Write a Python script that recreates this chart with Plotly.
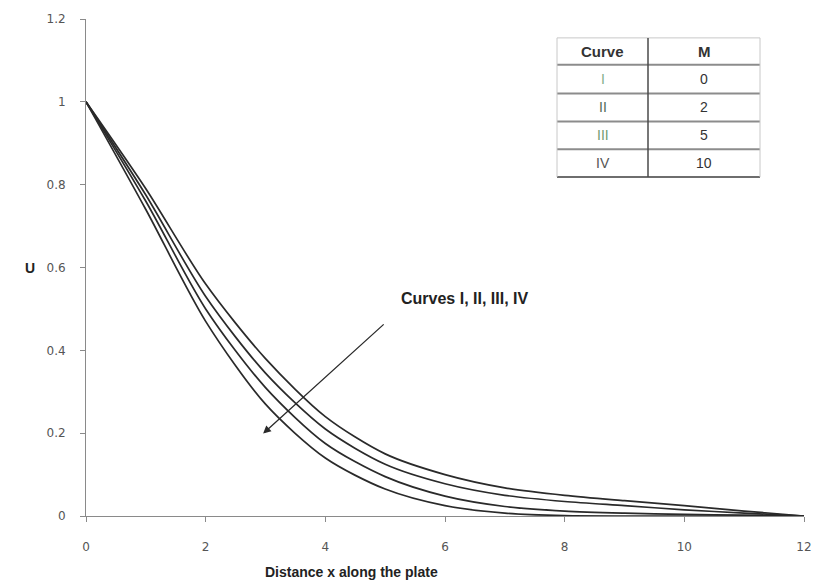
import plotly.graph_objects as go

# Velocity profiles U along the plate for different magnetic parameters M
x_vals = [0, 1, 2, 3, 4, 5, 6, 7, 8, 9, 10, 11, 12]
u_curve_iv = [1.0, 0.74, 0.47, 0.27, 0.14, 0.065, 0.025, 0.007, 0.001, 0.0, 0.0, 0.0, 0.0]
u_curve_iii = [1.0, 0.76, 0.50, 0.31, 0.175, 0.095, 0.048, 0.023, 0.012, 0.007, 0.004, 0.002, 0.0]
u_curve_ii = [1.0, 0.775, 0.53, 0.345, 0.21, 0.125, 0.078, 0.05, 0.035, 0.025, 0.015, 0.007, 0.0]
u_curve_i = [1.0, 0.79, 0.56, 0.38, 0.24, 0.15, 0.10, 0.068, 0.05, 0.037, 0.025, 0.012, 0.0]

curve_names = ["I", "II", "III", "IV"]
m_values = ["0", "2", "5", "10"]
name_colors = ["#7fae8a", "#4f6b58", "#6f9c72", "#555555"]

x_ticks = [0, 2, 4, 6, 8, 10, 12]
y_ticks = [0, 0.2, 0.4, 0.6, 0.8, 1, 1.2]

W, H = 826, 586
ML, MR, MT, MB = 86, 22, 16, 70

fig = go.Figure()
for name, ys in zip(curve_names, [u_curve_i, u_curve_ii, u_curve_iii, u_curve_iv]):
    fig.add_trace(go.Scatter(
        x=x_vals, y=ys, mode="lines", name=name,
        line=dict(color="#2a2a2a", width=1.7, shape="spline", smoothing=0.8),
        showlegend=False,
    ))

tick_font = dict(family="DejaVu Sans, Verdana, sans-serif", size=12, color="#555555")
label_font = dict(family="Liberation Sans, Arial, sans-serif", size=14, color="#222222")

fig.update_xaxes(
    range=[0, 12], tickvals=x_ticks, ticktext=[str(v) for v in x_ticks],
    showgrid=False, zeroline=False, showline=True, linecolor="#8a8a8a", linewidth=1,
    ticks="outside", ticklen=5, tickcolor="#8a8a8a", ticklabelstandoff=15,
    tickfont=tick_font,
)
fig.update_yaxes(
    range=[0, 1.2], tickvals=y_ticks, ticktext=["0", "0.2", "0.4", "0.6", "0.8", "1", "1.2"],
    showgrid=False, zeroline=False, showline=True, linecolor="#8a8a8a", linewidth=1,
    ticks="outside", ticklen=5, tickcolor="#8a8a8a", ticklabelstandoff=12,
    tickfont=tick_font,
)


def px_to_paper(px, py):
    return (px - ML) / (W - ML - MR), (H - MB - py) / (H - MT - MB)


annotations = []
shapes = []


def label(px, py, text, font):
    a, b = px_to_paper(px, py)
    annotations.append(dict(x=a, y=b, xref="paper", yref="paper", showarrow=False,
                            xanchor="center", yanchor="middle", text=text, font=font))


# axis titles
label(351, 572, "<b>Distance x along the plate</b>", label_font)
label(30, 266, "<b>U</b>", label_font)

# pointer to the family of curves
annotations.append(dict(x=2.96, y=0.199, ax=5.0, ay=0.466, xref="x", yref="y",
                        axref="x", ayref="y", showarrow=True, arrowhead=2,
                        arrowsize=1.2, arrowwidth=1.3, arrowcolor="#2a2a2a", text=""))
label(464, 297, "<b>Curves I, II, III, IV</b>", dict(label_font, size=16))

# parameter table
t_left, t_mid, t_right = 557, 648, 760
row_edges = [35, 62, 91, 119, 147, 175]


def hline(py, color, width, x0=t_left, x1=t_right):
    a0, b = px_to_paper(x0, py)
    a1, _ = px_to_paper(x1, py)
    shapes.append(dict(type="line", xref="paper", yref="paper", x0=a0, x1=a1, y0=b, y1=b,
                       line=dict(color=color, width=width)))


def vline(px, color, width, y0=row_edges[0], y1=row_edges[-1]):
    a, b0 = px_to_paper(px, y0)
    _, b1 = px_to_paper(px, y1)
    shapes.append(dict(type="line", xref="paper", yref="paper", x0=a, x1=a, y0=b0, y1=b1,
                       line=dict(color=color, width=width)))


hline(row_edges[0], "#c8c8c8", 1)
for py in row_edges[1:-1]:
    hline(py, "#8c8c8c", 2)
hline(row_edges[-1], "#6e6e6e", 2)
vline(t_left, "#c8c8c8", 1)
vline(t_right, "#c8c8c8", 1)
vline(t_mid, "#4a4a4a", 1.5)

cell_font = dict(family="Liberation Sans, Arial, sans-serif", size=14, color="#333333")
c1 = (t_left + t_mid) / 2
c2 = (t_mid + t_right) / 2
hy = (row_edges[0] + row_edges[1]) / 2
label(c1, hy, "<b>Curve</b>", dict(cell_font, size=15))
label(c2, hy, "<b>M</b>", dict(cell_font, size=15))
for i, (nm, mv) in enumerate(zip(curve_names, m_values)):
    cy = (row_edges[i + 1] + row_edges[i + 2]) / 2
    label(c1, cy, nm, dict(cell_font, color=name_colors[i]))
    label(c2, cy, mv, cell_font)

fig.update_layout(
    width=W, height=H,
    margin=dict(l=ML, r=MR, t=MT, b=MB),
    paper_bgcolor="white", plot_bgcolor="white",
    annotations=annotations, shapes=shapes,
)

fig.write_html("out.html")
